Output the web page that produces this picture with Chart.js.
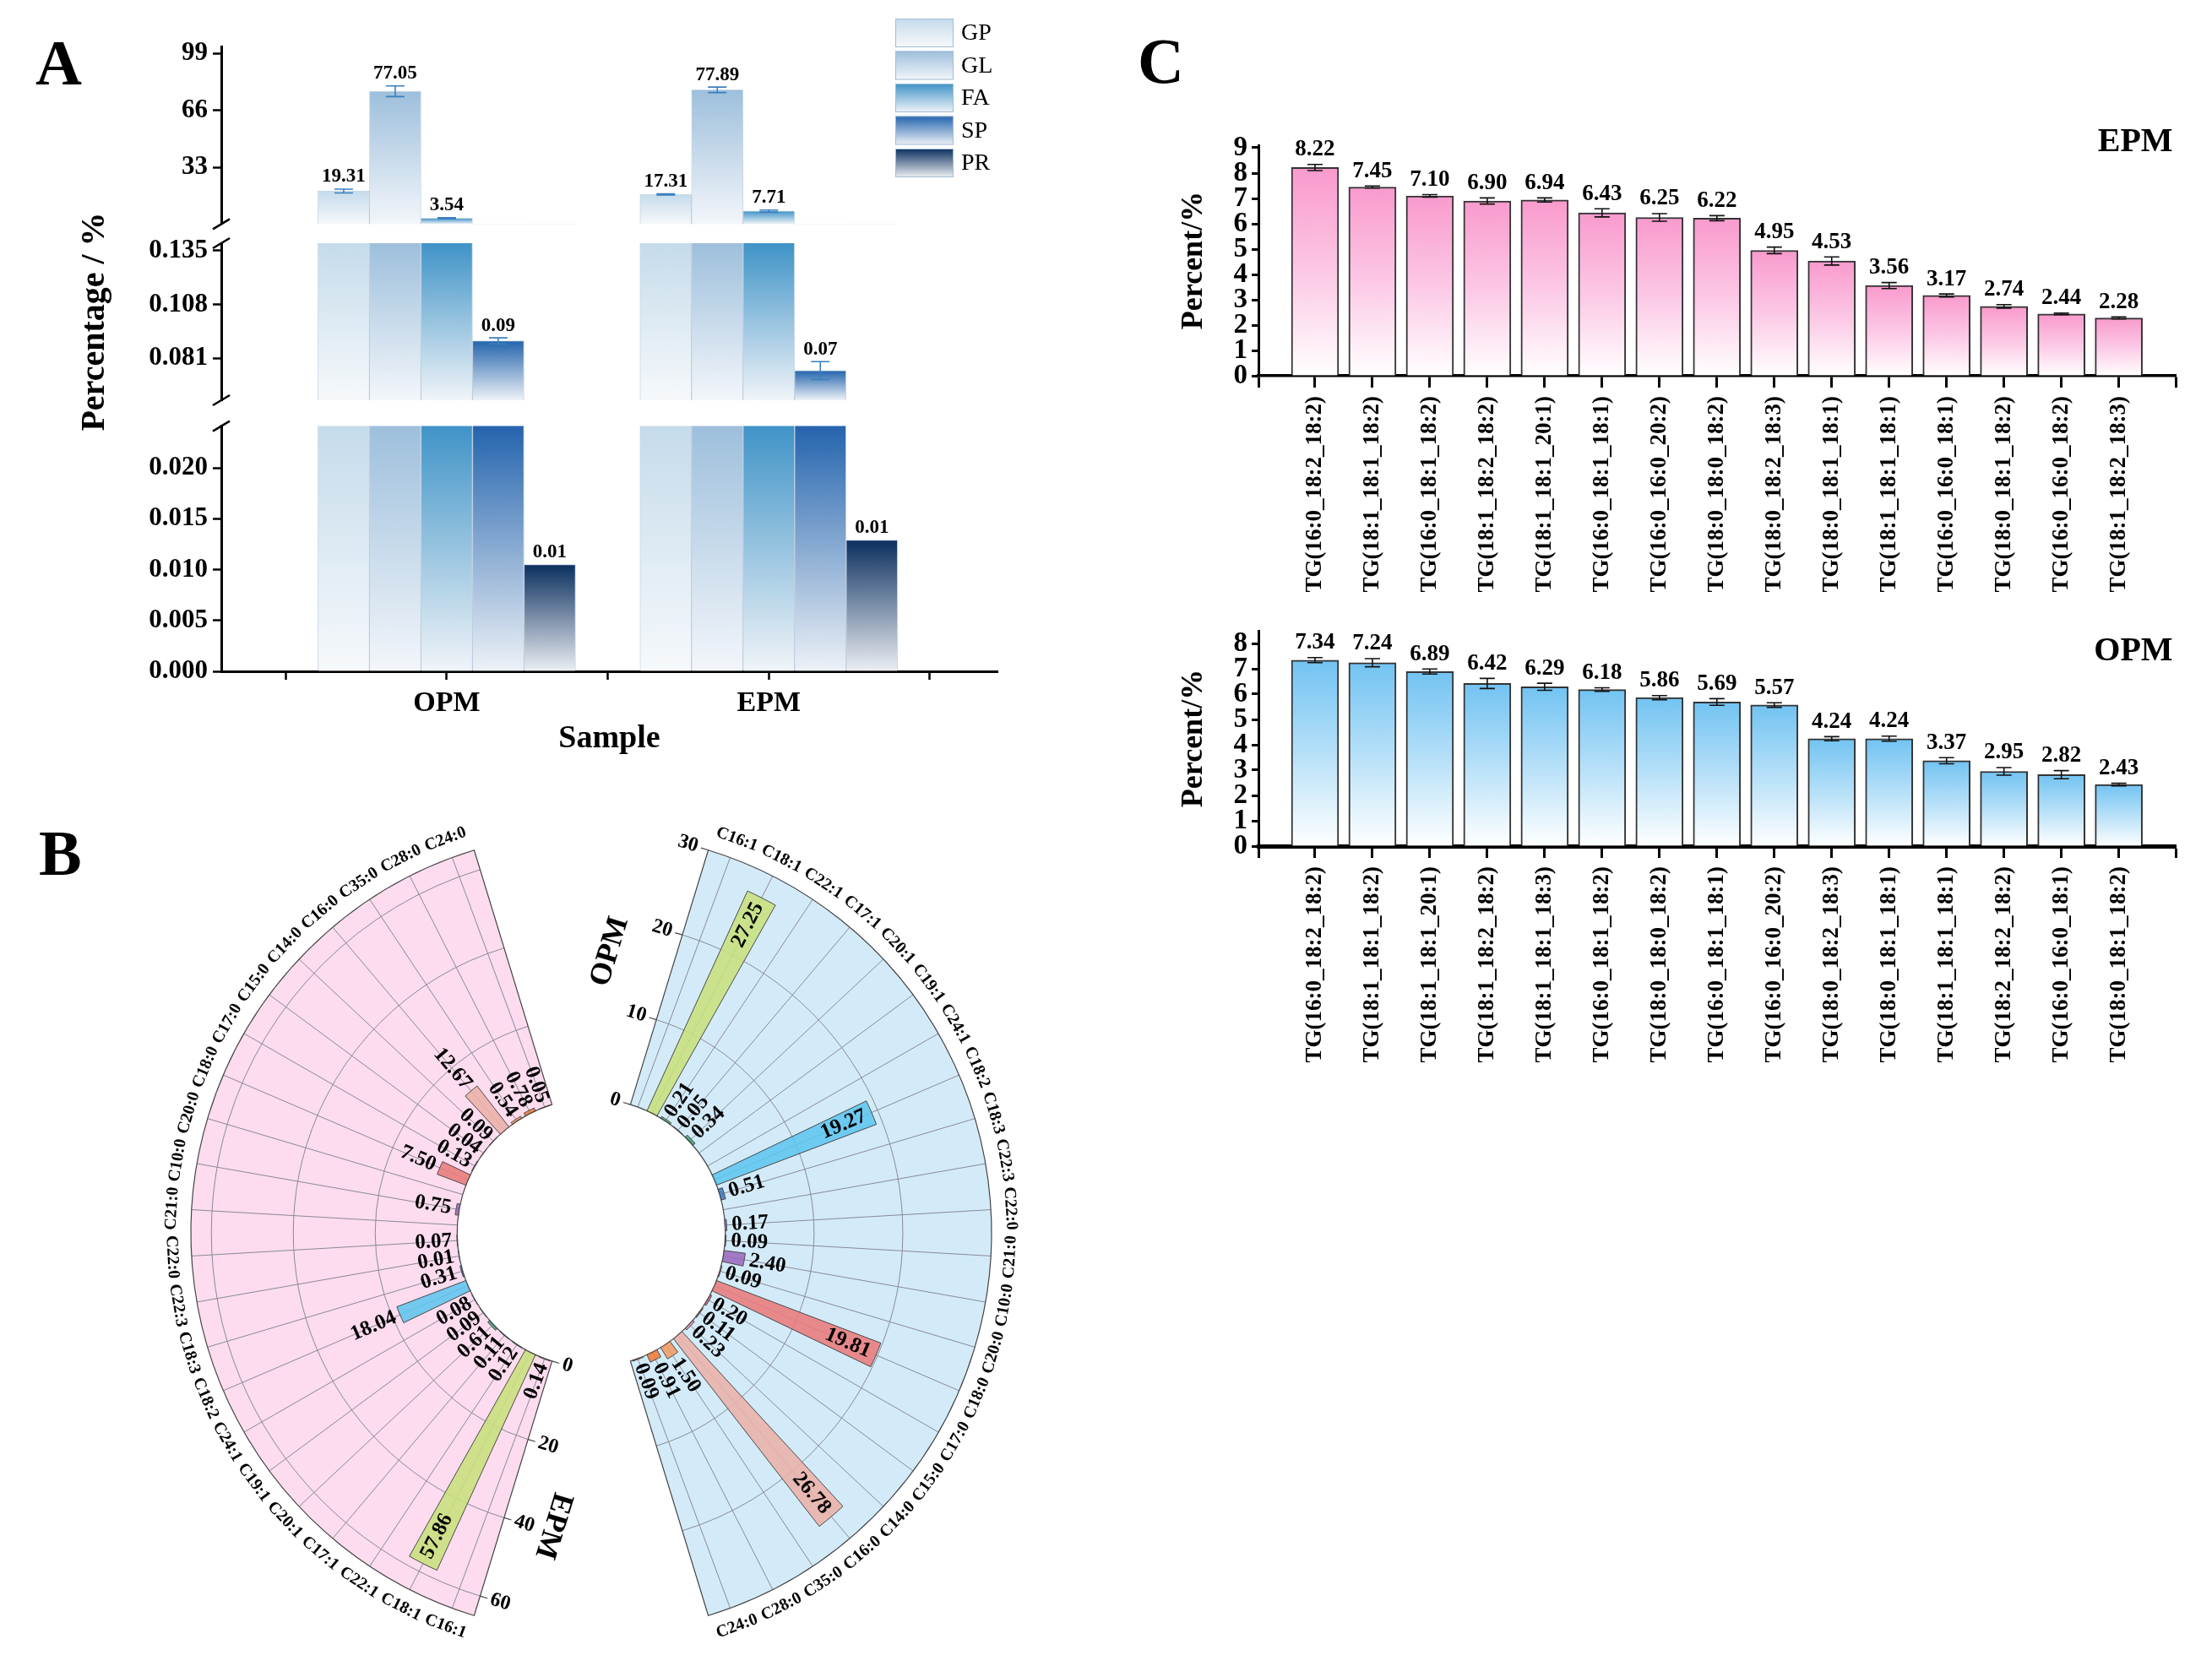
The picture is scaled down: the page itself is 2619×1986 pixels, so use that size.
<!DOCTYPE html>
<html>
<head>
<meta charset="utf-8">
<script src="https://cdn.jsdelivr.net/npm/chart.js@4.4.1/dist/chart.umd.min.js"></script>
<style>
  body { margin: 0; background: #fff; }
  #page { position: relative; width: 2619px; height: 1986px; overflow: hidden; background: #fff; }
  canvas { position: absolute; }
  .tag { position: absolute; font: bold 76px 'Liberation Serif', serif; line-height: 1; }
</style>
</head>
<body>
<div id="page">
  <div class="tag" style="left:42px; top:36px">A</div>
  <div class="tag" style="left:46px; top:972px">B</div>
  <div class="tag" style="left:1347px; top:34px">C</div>
  <canvas id="aTop" width="1250" height="290" style="left:0; top:0"></canvas>
  <canvas id="aMid" width="1250" height="420" style="left:0; top:170px"></canvas>
  <canvas id="aBot" width="1250" height="420" style="left:0; top:480px"></canvas>
  <canvas id="polar" width="1400" height="1046" style="left:0; top:940px"></canvas>
  <canvas id="cEpm" width="1319" height="610" style="left:1300px; top:100px"></canvas>
  <canvas id="cOpm" width="1319" height="567" style="left:1300px; top:700px"></canvas>
</div>
<script>
// ---- panel A : lipid classes ----
const groups = ['OPM', 'EPM'];
const classes = ['GP', 'GL', 'FA', 'SP', 'PR'];
const gpVals = [19.31, 17.31];
const glVals = [77.05, 77.89];
const faVals = [3.54, 7.71];
const spVals = [0.0898, 0.0749];
const prVals = [0.0105, 0.0129];
const gpSd = [1.1, 0.3];
const glSd = [3.1, 1.6];
const faSd = [0.3, 0.6];
const spSd = [0.0015, 0.0045];
const prSd = [0, 0];
const topTicks = [33, 66, 99];
const midTicks = [0.081, 0.108, 0.135];
const lowTicks = [0, 0.005, 0.010, 0.015, 0.020];

// ---- panel B : fatty acids ----
const fattyAcids = ['C16:1', 'C18:1', 'C22:1', 'C17:1', 'C20:1', 'C19:1', 'C24:1', 'C18:2', 'C18:3', 'C22:3', 'C22:0',
  'C21:0', 'C10:0', 'C20:0', 'C18:0', 'C17:0', 'C15:0', 'C14:0', 'C16:0', 'C35:0', 'C28:0', 'C24:0'];
const epmFA = [0.14, 57.86, 0.12, 0.11, 0.61, 0.09, 0.08, 18.04, 0.31, 0.01, 0.07, null, 0.75, null, 7.50,
  0.13, 0.04, 0.09, 12.67, 0.54, 0.78, 0.05];
const opmFA = [null, 27.25, 0.21, 0.05, 0.34, null, null, 19.27, 0.51, null, 0.17, 0.09, 2.40, 0.09, 19.81,
  0.20, 0.11, 0.23, 26.78, 1.50, 0.91, 0.09];
const epmRTicks = [0, 20, 40, 60];
const opmRTicks = [0, 10, 20, 30];

// ---- panel C : triglycerides ----
const epmTG = ['TG(16:0_18:2_18:2)', 'TG(18:1_18:1_18:2)', 'TG(16:0_18:1_18:2)', 'TG(18:1_18:2_18:2)', 'TG(18:1_18:1_20:1)',
  'TG(16:0_18:1_18:1)', 'TG(16:0_16:0_20:2)', 'TG(18:0_18:0_18:2)', 'TG(18:0_18:2_18:3)', 'TG(18:0_18:1_18:1)',
  'TG(18:1_18:1_18:1)', 'TG(16:0_16:0_18:1)', 'TG(18:0_18:1_18:2)', 'TG(16:0_16:0_18:2)', 'TG(18:1_18:2_18:3)'];
const epmPct = [8.22, 7.45, 7.10, 6.90, 6.94, 6.43, 6.25, 6.22, 4.95, 4.53, 3.56, 3.17, 2.74, 2.44, 2.28];
const epmSd = [0.12, 0.04, 0.05, 0.12, 0.08, 0.16, 0.15, 0.1, 0.13, 0.16, 0.12, 0.06, 0.07, 0.03, 0.04];
const opmTG = ['TG(16:0_18:2_18:2)', 'TG(18:1_18:1_18:2)', 'TG(18:1_18:1_20:1)', 'TG(18:1_18:2_18:2)', 'TG(18:1_18:1_18:3)',
  'TG(16:0_18:1_18:2)', 'TG(18:0_18:0_18:2)', 'TG(16:0_18:1_18:1)', 'TG(16:0_16:0_20:2)', 'TG(18:0_18:2_18:3)',
  'TG(18:0_18:1_18:1)', 'TG(18:1_18:1_18:1)', 'TG(18:2_18:2_18:2)', 'TG(16:0_16:0_18:1)', 'TG(18:0_18:1_18:2)'];
const opmPct = [7.34, 7.24, 6.89, 6.42, 6.29, 6.18, 5.86, 5.69, 5.57, 4.24, 4.24, 3.37, 2.95, 2.82, 2.43];
const opmSd = [0.1, 0.16, 0.1, 0.2, 0.14, 0.07, 0.08, 0.13, 0.09, 0.08, 0.1, 0.12, 0.15, 0.16, 0.05];

const classVals = [gpVals, glVals, faVals, spVals, prVals];
const classSd = [gpSd, glSd, faSd, spSd, prSd];
const classShades = [['#c5dbeb', '#f6f9fb'], ['#9dbfdc', '#f3f6fa'], ['#3f93c7', '#f0f4f8'], ['#2464ad', '#eef2f7'], ['#0b2f5f', '#eceff3']];
const faColors = ['#86c99a', '#c8e07c', '#4fa97c', '#58b08a', '#3d9e78', '#6cc3bd', '#7cc8dc', '#5ec5ee', '#3e78bf', '#6e8fd2', '#8b86d3',
  '#a37cca', '#9b69be', '#c875ab', '#e97b7b', '#d9637f', '#c95e8d', '#e892a3', '#ebb1a8', '#f29b62', '#ef7c38', '#f08a4a'];

const SERIF = "'Liberation Serif', 'Times New Roman', serif";
Chart.defaults.font.family = SERIF;
Chart.defaults.color = '#000';
Chart.defaults.animation = false;
Chart.defaults.events = [];
Chart.defaults.plugins.legend.display = false;
Chart.defaults.plugins.tooltip.enabled = false;

// vertical gradient from the bar top down to its base, kept inside the plot
function shadeFill(stops) {
  return ctx => {
    if (ctx.type !== 'data') return stops[0];
    const chart = ctx.chart, area = chart.chartArea;
    if (!area) return stops[0];
    const ys = chart.scales.y;
    const y1 = Math.min(ys.getPixelForValue(0), area.bottom);
    let y0 = Math.max(ys.getPixelForValue(ctx.raw.y), area.top);
    if (y1 - y0 < 1) y0 = y1 - 1;
    const g = chart.ctx.createLinearGradient(0, y0, 0, y1);
    stops.forEach((c, i) => g.addColorStop(i / (stops.length - 1), c));
    return g;
  };
}

const errorBars = {
  id: 'errorBars',
  afterDatasetsDraw(chart, args, o) {
    const ctx = chart.ctx, ys = chart.scales.y;
    ctx.save();
    ctx.strokeStyle = o.color;
    ctx.lineWidth = o.width;
    chart.data.datasets.forEach((ds, di) => {
      chart.getDatasetMeta(di).data.forEach((bar, i) => {
        const v = ds.data[i].y, e = ds.errors[i];
        if (!e || v < ys.min || v > ys.max) return;
        const hi = ys.getPixelForValue(v + e), lo = ys.getPixelForValue(v - e), hw = o.cap / 2;
        ctx.beginPath();
        ctx.moveTo(bar.x, hi); ctx.lineTo(bar.x, lo);
        ctx.moveTo(bar.x - hw, hi); ctx.lineTo(bar.x + hw, hi);
        ctx.moveTo(bar.x - hw, lo); ctx.lineTo(bar.x + hw, lo);
        ctx.stroke();
      });
    });
    ctx.restore();
  }
};

const valueLabels = {
  id: 'valueLabels',
  afterDatasetsDraw(chart, args, o) {
    const ctx = chart.ctx, ys = chart.scales.y;
    ctx.save();
    ctx.font = o.font;
    ctx.fillStyle = '#000';
    ctx.textAlign = 'center';
    ctx.textBaseline = 'bottom';
    chart.data.datasets.forEach((ds, di) => {
      chart.getDatasetMeta(di).data.forEach((bar, i) => {
        const v = ds.data[i].y, e = ds.errors[i] || 0;
        if (v < ys.min || v > ys.max) return;
        ctx.fillText(v.toFixed(2), bar.x, ys.getPixelForValue(v + e) - o.gap);
      });
    });
    ctx.restore();
  }
};

const axisBreak = {
  id: 'axisBreak',
  afterDraw(chart, args, o) {
    const ctx = chart.ctx, a = chart.chartArea;
    ctx.save();
    ctx.strokeStyle = '#000';
    ctx.lineWidth = 2.5;
    o.at.forEach(side => {
      const y = side === 'top' ? a.top : a.bottom;
      ctx.beginPath();
      ctx.moveTo(a.left - 10, y + 6);
      ctx.lineTo(a.left + 10, y - 6);
      ctx.stroke();
    });
    ctx.restore();
  }
};

const legendBox = {
  id: 'legendBox',
  afterDraw(chart, args, o) {
    const ctx = chart.ctx;
    ctx.save();
    classes.forEach((name, k) => {
      const y = o.y + k * o.step;
      const g = ctx.createLinearGradient(0, y, 0, y + o.h);
      g.addColorStop(0, classShades[k][0]);
      g.addColorStop(1, classShades[k][1]);
      ctx.fillStyle = g;
      ctx.fillRect(o.x, y, o.w, o.h);
      ctx.strokeStyle = '#a3bcd1';
      ctx.lineWidth = 1;
      ctx.strokeRect(o.x + 0.5, y + 0.5, o.w - 1, o.h - 1);
      ctx.fillStyle = '#000';
      ctx.font = '28px ' + SERIF;
      ctx.textAlign = 'left';
      ctx.textBaseline = 'middle';
      ctx.fillText(name, o.x + o.w + 9, y + o.h / 2 + 1);
    });
    ctx.restore();
  }
};

function classSegment(id, min, max, ticks, fmt, cfg) {
  const plugins = [errorBars, valueLabels, axisBreak];
  if (cfg.legend) plugins.push(legendBox);
  return new Chart(document.getElementById(id), {
    type: 'bar',
    data: {
      datasets: classes.map((c, k) => ({
        label: c,
        data: groups.map((g, i) => ({x: i, y: classVals[k][i]})),
        errors: classSd[k],
        backgroundColor: shadeFill(classShades[k]),
        borderColor: 'rgba(100,140,180,0.35)',
        borderWidth: 1,
        barThickness: 61,
        clip: 0
      }))
    },
    options: {
      responsive: false,
      layout: {padding: cfg.padding},
      scales: {
        x: {
          type: 'linear', min: -0.70, max: 1.71, offset: false, display: cfg.showX,
          afterBuildTicks: s => { s.ticks = [-0.5, 0, 0.5, 1, 1.5].map(v => ({value: v})); },
          ticks: {autoSkip: false, maxRotation: 0, padding: 8, font: {size: 34, weight: 'bold'},
            callback: v => (v === 0 || v === 1) ? groups[v] : ''},
          grid: {offset: false, drawOnChartArea: false, tickLength: 10, tickWidth: 2.5, tickColor: '#000'},
          border: {color: '#000', width: 3},
          title: {display: true, text: 'Sample', font: {size: 38, weight: 'bold'}, padding: {top: 0, bottom: 2}},
          afterFit: s => { s.height = cfg.showX ? 105 : 0; }
        },
        y: {
          min, max,
          afterBuildTicks: s => { s.ticks = ticks.map(v => ({value: v})); },
          ticks: {autoSkip: false, callback: fmt, font: {size: 31, weight: 'bold'}, padding: 6},
          grid: {drawOnChartArea: false, tickLength: 10, tickWidth: 2.5, tickColor: '#000'},
          border: {color: '#000', width: 3},
          title: cfg.yTitle ? {display: true, text: 'Percentage / %', font: {size: 40, weight: 'bold'}, padding: {top: 89, bottom: 0}} : {display: false},
          afterFit: s => { s.width = 262; }
        }
      },
      plugins: {
        errorBars: {color: '#3a7fc0', width: 1.6, cap: 22},
        valueLabels: {font: 'bold 23px ' + SERIF, gap: 3},
        axisBreak: {at: cfg.breaks},
        legendBox: {x: 1060, y: 22, w: 69, h: 34, step: 38.5}
      }
    },
    plugins
  });
}

classSegment('aTop', 0.14, 103, topTicks, v => String(v),
  {padding: {top: 55, bottom: 15, left: 0, right: 69}, showX: false, breaks: ['bottom'], legend: true});
classSegment('aMid', 0.06, 0.1388, midTicks, v => v.toFixed(3),
  {padding: {top: 118, bottom: 116, left: 0, right: 69}, showX: false, breaks: ['top', 'bottom'], yTitle: true});
classSegment('aBot', 0, 0.0241, lowTicks, v => v.toFixed(3),
  {padding: {top: 6, bottom: 0, left: 0, right: 69}, showX: true, breaks: ['top']});

// ---- panel B ----
const SLOT_DEG = 146 / fattyAcids.length;
const BAR_SHARE = 0.72;
const HOLE = 0.335;
const rad = d => d * Math.PI / 180;

function slotData(vals) {
  const out = [0];
  vals.forEach(v => out.push(v == null ? 0 : v, 0));
  return out;
}
function slotAngle(ctx) {
  const i = ctx.dataIndex, n = ctx.dataset.data.length;
  if (i % 2) return SLOT_DEG * BAR_SHARE;
  return (i === 0 || i === n - 1 ? 0.5 : 1) * SLOT_DEG * (1 - BAR_SHARE);
}
function slotColor(alpha, fixed) {
  return ctx => {
    const i = ctx.dataIndex;
    if (!(i % 2)) return 'rgba(0,0,0,0)';
    const k = (i - 1) / 2;
    if (ctx.dataset.source[k] == null) return 'rgba(0,0,0,0)';
    return fixed || (faColors[k] + alpha);
  };
}
function upright(a) {
  const r = Math.atan2(Math.sin(a), Math.cos(a));
  if (r > Math.PI / 2 + 1e-9) return [r - Math.PI, true];
  if (r <= -Math.PI / 2) return [r + Math.PI, true];
  return [r, false];
}
function radialScale(max, startAngle, ticks) {
  return {
    type: 'radialLinear', axis: 'r', min: -HOLE / (1 - HOLE) * max, max, startAngle,
    afterBuildTicks: s => { s.ticks = ticks.map(v => ({value: v})); },
    ticks: {display: false}, grid: {display: false}, angleLines: {display: false}, pointLabels: {display: false}
  };
}

const polarDecor = {
  id: 'polarDecor',
  beforeDatasetsDraw(chart, args, o) {
    const ctx = chart.ctx;
    o.halves.forEach(h => {
      const s = chart.scales[h.axis];
      const cx = s.xCenter, cy = s.yCenter;
      const a0 = rad(s.options.startAngle) - Math.PI / 2;
      const a1 = a0 + rad(SLOT_DEG * fattyAcids.length);
      const r0 = s.getDistanceFromCenterForValue(0), R = s.drawingArea;
      ctx.save();
      ctx.beginPath();
      ctx.arc(cx, cy, R, a0, a1);
      ctx.arc(cx, cy, r0, a1, a0, true);
      ctx.closePath();
      ctx.fillStyle = h.fill;
      ctx.fill();
      ctx.strokeStyle = '#8a8a96';
      ctx.lineWidth = 1;
      s.ticks.forEach(t => {
        if (t.value <= 0 || t.value >= s.max) return;
        ctx.beginPath();
        ctx.arc(cx, cy, s.getDistanceFromCenterForValue(t.value), a0, a1);
        ctx.stroke();
      });
      fattyAcids.forEach((n, i) => {
        const a = a0 + rad(SLOT_DEG * (i + 0.5));
        ctx.beginPath();
        ctx.moveTo(cx + r0 * Math.cos(a), cy + r0 * Math.sin(a));
        ctx.lineTo(cx + R * Math.cos(a), cy + R * Math.sin(a));
        ctx.stroke();
      });
      ctx.restore();
    });
  },
  afterDatasetsDraw(chart, args, o) {
    const ctx = chart.ctx;
    const s0 = chart.scales[o.halves[0].axis];
    ctx.save();
    ctx.fillStyle = '#fff';
    ctx.beginPath();
    ctx.arc(s0.xCenter, s0.yCenter, s0.getDistanceFromCenterForValue(0) - 0.5, 0, Math.PI * 2);
    ctx.fill();
    o.halves.forEach(h => {
      const s = chart.scales[h.axis];
      const cx = s.xCenter, cy = s.yCenter;
      const a0 = rad(s.options.startAngle) - Math.PI / 2;
      const a1 = a0 + rad(SLOT_DEG * fattyAcids.length);
      const r0 = s.getDistanceFromCenterForValue(0), R = s.drawingArea;
      const at = (r, a) => [cx + r * Math.cos(a), cy + r * Math.sin(a)];
      // sector outline
      ctx.strokeStyle = '#444';
      ctx.lineWidth = 1.2;
      ctx.beginPath();
      ctx.arc(cx, cy, R, a0, a1);
      ctx.arc(cx, cy, r0, a1, a0, true);
      ctx.closePath();
      ctx.stroke();
      // radial axis on the start edge
      const out = a0 - Math.PI / 2;
      const [trot, tflip] = upright(out);
      ctx.fillStyle = '#000';
      ctx.textBaseline = 'middle';
      ctx.font = 'bold 24px ' + SERIF;
      s.ticks.forEach(t => {
        const [px, py] = at(s.getDistanceFromCenterForValue(t.value), a0);
        ctx.beginPath();
        ctx.moveTo(px, py);
        ctx.lineTo(px + 9 * Math.cos(out), py + 9 * Math.sin(out));
        ctx.stroke();
        ctx.save();
        ctx.translate(px + 13 * Math.cos(out), py + 13 * Math.sin(out));
        ctx.rotate(trot);
        ctx.textAlign = tflip ? 'right' : 'left';
        ctx.fillText(String(t.value), 0, 0);
        ctx.restore();
      });
      // axis title
      const [tx, ty] = at(h.titleR, a0);
      ctx.save();
      ctx.translate(tx + h.titleOff * Math.cos(out), ty + h.titleOff * Math.sin(out));
      ctx.rotate(a0);
      ctx.textAlign = 'center';
      ctx.font = 'bold 36px ' + SERIF;
      ctx.fillText(h.title, 0, 0);
      ctx.restore();
      // category names round the rim
      ctx.font = 'bold 20px ' + SERIF;
      ctx.textAlign = 'center';
      fattyAcids.forEach((n, i) => {
        const a = a0 + rad(SLOT_DEG * (i + 0.5));
        const [px, py] = at(R + 23, a);
        ctx.save();
        ctx.translate(px, py);
        ctx.rotate(upright(a + Math.PI / 2)[0]);
        ctx.fillText(n, 0, 0);
        ctx.restore();
      });
      // values at the bar ends
      ctx.font = 'bold 25px ' + SERIF;
      h.vals.forEach((v, i) => {
        if (v == null) return;
        const a = a0 + rad(SLOT_DEG * (i + 0.5));
        const rEnd = s.getDistanceFromCenterForValue(v);
        const inside = v > s.max * 0.5;
        const [rot, flip] = upright(a);
        const [px, py] = at(inside ? rEnd - 8 : rEnd + 6, a);
        ctx.save();
        ctx.translate(px, py);
        ctx.rotate(rot);
        ctx.textAlign = inside ? (flip ? 'left' : 'right') : (flip ? 'right' : 'left');
        ctx.fillText(v.toFixed(2), 0, 0);
        ctx.restore();
      });
    });
    ctx.restore();
  }
};

function polarSet(label, axis, vals) {
  return {
    label, rAxisID: axis, data: slotData(vals), source: vals,
    angle: slotAngle,
    backgroundColor: slotColor('e0'),
    borderColor: slotColor('', '#4a4a4a'),
    borderWidth: 1
  };
}

new Chart(document.getElementById('polar'), {
  type: 'polarArea',
  data: {
    labels: slotData(epmFA).map((v, i) => i % 2 ? fattyAcids[(i - 1) / 2] : ''),
    datasets: [polarSet('EPM', 'rE', epmFA), polarSet('OPM', 'rO', opmFA)]
  },
  options: {
    responsive: false,
    layout: {padding: {left: 226, right: 226, top: 46, bottom: 52}},
    scales: {
      rE: radialScale(65, 197, epmRTicks),
      rO: radialScale(30, 17, opmRTicks)
    },
    plugins: {
      polarDecor: {
        halves: [
          {axis: 'rE', fill: '#fcdcee', title: 'EPM', vals: epmFA, titleR: 345, titleOff: 58},
          {axis: 'rO', fill: '#d3ebf9', title: 'OPM', vals: opmFA, titleR: 325, titleOff: 76}
        ]
      }
    }
  },
  plugins: [polarDecor]
});

// ---- panel C ----
const cornerLabel = {
  id: 'cornerLabel',
  afterDraw(chart, args, o) {
    const ctx = chart.ctx, a = chart.chartArea;
    ctx.save();
    ctx.font = 'bold 40px ' + SERIF;
    ctx.fillStyle = '#000';
    ctx.textAlign = 'right';
    ctx.textBaseline = 'middle';
    ctx.fillText(o.text, a.right - 4, a.top + o.dy);
    ctx.restore();
  }
};

function tgChart(id, names, vals, sds, max, stops, cfg) {
  return new Chart(document.getElementById(id), {
    type: 'bar',
    data: {
      datasets: [{
        data: names.map((n, i) => ({x: i, y: vals[i]})),
        errors: sds,
        backgroundColor: shadeFill(stops),
        borderColor: '#333',
        borderWidth: 2,
        barThickness: 56,
        clip: 0
      }]
    },
    options: {
      responsive: false,
      layout: {padding: {top: cfg.top, right: 25, left: 0, bottom: 0}},
      scales: {
        x: {
          type: 'linear', min: -0.985, max: names.length, offset: false,
          afterBuildTicks: s => { s.ticks = [s.min, ...names.map((n, i) => i), s.max].map(v => ({value: v})); },
          ticks: {autoSkip: false, minRotation: 90, maxRotation: 90, padding: 10, font: {size: 27, weight: 'bold'},
            callback: v => (Number.isInteger(v) && v >= 0 && v < names.length) ? names[v] : ''},
          grid: {offset: false, drawOnChartArea: false, tickLength: 14, tickWidth: 3, tickColor: '#000'},
          border: {color: '#000', width: cfg.xLine},
          afterFit: s => { s.height = 265; }
        },
        y: {
          min: 0, max,
          ticks: {stepSize: 1, autoSkip: false, includeBounds: false, font: {size: 33, weight: 'bold'}, padding: 5},
          grid: {drawOnChartArea: false, tickLength: 8, tickWidth: 3, tickColor: '#000'},
          border: {color: '#000', width: 3},
          title: {display: true, text: 'Percent/%', font: {size: 36, weight: 'bold'}, padding: {top: 92, bottom: 0}},
          afterFit: s => { s.width = 190; }
        }
      },
      plugins: {
        errorBars: {color: '#111', width: 1.6, cap: 18},
        valueLabels: {font: 'bold 27px ' + SERIF, gap: 4},
        cornerLabel: {text: cfg.label, dy: cfg.dy}
      }
    },
    plugins: [errorBars, valueLabels, cornerLabel]
  });
}

tgChart('cEpm', epmTG, epmPct, epmSd, 9.1, ['#f99acd', '#fcc8e5', '#ffffff'],
  {top: 72, xLine: 3.5, label: 'EPM', dy: -3});
tgChart('cOpm', opmTG, opmPct, opmSd, 8.5, ['#72c3f2', '#b6e0f8', '#ffffff'],
  {top: 47, xLine: 5, label: 'OPM', dy: 25});
</script>
</body>
</html>
